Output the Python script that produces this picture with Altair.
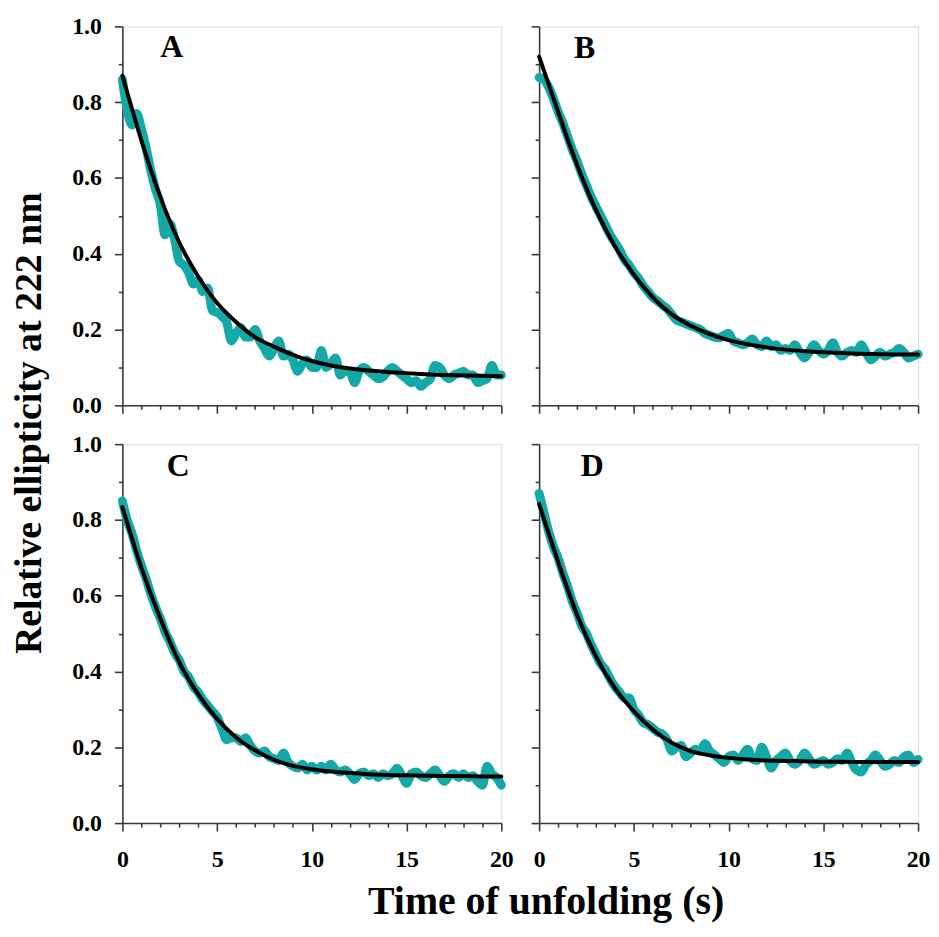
import altair as alt
import pandas as pd

SERIF = "Liberation Serif"
TEAL = "#14a9a6"
FRAME = "#3a3a3a"

# sampling times of the measured traces (s)
time_raw = [0, 0.25, 0.5, 0.75, 1, 1.25, 1.5, 1.75, 2, 2.25, 2.5, 2.75, 3, 3.25, 3.5, 3.75,
            4, 4.25, 4.5, 4.75, 5, 5.25, 5.5, 5.75, 6, 6.25, 6.5, 6.75, 7, 7.25, 7.5, 7.75,
            8, 8.25, 8.5, 8.75, 9, 9.25, 9.5, 9.75, 10, 10.25, 10.5, 10.75, 11, 11.25, 11.5, 11.75,
            12, 12.25, 12.5, 12.75, 13, 13.25, 13.5, 13.75, 14, 14.25, 14.5, 14.75, 15, 15.25, 15.5, 15.75,
            16, 16.25, 16.5, 16.75, 17, 17.25, 17.5, 17.75, 18, 18.25, 18.5, 18.75, 19, 19.25, 19.5, 19.75, 20]
# times at which the fitted curves are read (s)
time_fit = [0, 1, 2, 3, 4, 5, 6, 7, 8, 9, 10, 11, 12, 13, 14, 15, 16, 17, 18, 19, 20]

raw_A = [0.86, 0.78, 0.74, 0.77, 0.73, 0.68, 0.62, 0.57, 0.53, 0.45, 0.48, 0.44, 0.38, 0.37, 0.35, 0.32,
         0.33, 0.30, 0.31, 0.25, 0.245, 0.235, 0.22, 0.17, 0.19, 0.205, 0.18, 0.18, 0.20, 0.17, 0.15, 0.13,
         0.15, 0.17, 0.13, 0.135, 0.12, 0.09, 0.11, 0.12, 0.10, 0.10, 0.145, 0.10, 0.11, 0.125, 0.08, 0.09,
         0.09, 0.06, 0.09, 0.10, 0.09, 0.08, 0.07, 0.075, 0.09, 0.10, 0.09, 0.08, 0.07, 0.06, 0.065, 0.05,
         0.06, 0.07, 0.105, 0.10, 0.08, 0.07, 0.08, 0.085, 0.09, 0.08, 0.08, 0.06, 0.065, 0.07, 0.105, 0.08, 0.08]
fit_A = [0.87, 0.70, 0.55, 0.43, 0.34, 0.27, 0.22, 0.18, 0.155, 0.133, 0.117, 0.105, 0.097, 0.092, 0.088,
         0.085, 0.082, 0.080, 0.079, 0.078, 0.077]

raw_B = [0.865, 0.86, 0.84, 0.81, 0.775, 0.745, 0.71, 0.675, 0.645, 0.61, 0.58, 0.55, 0.525, 0.50, 0.475, 0.45,
         0.43, 0.41, 0.385, 0.37, 0.35, 0.335, 0.315, 0.30, 0.285, 0.275, 0.265, 0.255, 0.24, 0.225, 0.22, 0.215,
         0.21, 0.205, 0.20, 0.19, 0.185, 0.18, 0.178, 0.185, 0.19, 0.17, 0.165, 0.16, 0.165, 0.175, 0.16, 0.155,
         0.17, 0.155, 0.16, 0.145, 0.15, 0.145, 0.16, 0.14, 0.125, 0.14, 0.16, 0.145, 0.135, 0.145, 0.165, 0.14,
         0.13, 0.14, 0.145, 0.14, 0.16, 0.14, 0.12, 0.13, 0.14, 0.13, 0.135, 0.14, 0.15, 0.14, 0.125, 0.13, 0.135]
fit_B = [0.92, 0.775, 0.635, 0.515, 0.42, 0.345, 0.285, 0.24, 0.21, 0.188, 0.172, 0.161, 0.153, 0.147, 0.143,
         0.140, 0.138, 0.136, 0.135, 0.134, 0.134]

raw_C = [0.85, 0.80, 0.765, 0.72, 0.68, 0.645, 0.605, 0.57, 0.54, 0.505, 0.48, 0.45, 0.43, 0.40, 0.385, 0.36,
         0.345, 0.325, 0.31, 0.295, 0.28, 0.25, 0.22, 0.225, 0.225, 0.215, 0.225, 0.205, 0.19, 0.185, 0.19, 0.175,
         0.17, 0.165, 0.185, 0.16, 0.15, 0.145, 0.155, 0.14, 0.15, 0.14, 0.15, 0.14, 0.155, 0.14, 0.135, 0.14,
         0.13, 0.115, 0.13, 0.135, 0.125, 0.13, 0.12, 0.13, 0.125, 0.13, 0.145, 0.125, 0.105, 0.13, 0.135, 0.125,
         0.12, 0.13, 0.14, 0.125, 0.11, 0.125, 0.13, 0.12, 0.13, 0.12, 0.125, 0.11, 0.10, 0.15, 0.13, 0.12, 0.10]
fit_C = [0.834, 0.675, 0.54, 0.425, 0.34, 0.275, 0.226, 0.192, 0.167, 0.151, 0.142, 0.136, 0.132, 0.129, 0.127,
         0.126, 0.125, 0.124, 0.124, 0.123, 0.123]

raw_D = [0.87, 0.82, 0.77, 0.73, 0.70, 0.66, 0.625, 0.585, 0.555, 0.52, 0.50, 0.47, 0.445, 0.42, 0.405, 0.38,
         0.36, 0.345, 0.33, 0.33, 0.30, 0.285, 0.265, 0.26, 0.25, 0.24, 0.235, 0.22, 0.19, 0.20, 0.205, 0.175,
         0.185, 0.195, 0.19, 0.21, 0.19, 0.18, 0.17, 0.16, 0.175, 0.18, 0.165, 0.18, 0.195, 0.17, 0.165, 0.20,
         0.175, 0.145, 0.165, 0.175, 0.185, 0.165, 0.155, 0.165, 0.185, 0.17, 0.155, 0.16, 0.165, 0.155, 0.16, 0.17,
         0.165, 0.185, 0.16, 0.14, 0.135, 0.155, 0.165, 0.18, 0.165, 0.15, 0.155, 0.165, 0.16, 0.175, 0.18, 0.16, 0.168]
fit_D = [0.842, 0.69, 0.55, 0.44, 0.356, 0.295, 0.247, 0.212, 0.19, 0.179, 0.172, 0.168, 0.165, 0.164, 0.163,
         0.162, 0.162, 0.161, 0.161, 0.161, 0.161]

panel_letters = ["A", "B", "C", "D"]
letter_t = [2.6, 2.4, 2.95, 2.8]
letter_v = [0.92, 0.917, 0.917, 0.917]

x_tick_values = [0, 1, 2, 3, 4, 5, 6, 7, 8, 9, 10, 11, 12, 13, 14, 15, 16, 17, 18, 19, 20]
y_tick_values = [0.0, 0.1, 0.2, 0.3, 0.4, 0.5, 0.6, 0.7, 0.8, 0.9, 1.0]

x_title = "Time of unfolding (s)"
y_title = "Relative ellipticity at 222 nm"

W = 381
H = 381


def x_axis(show_labels):
    return alt.Axis(
        values=x_tick_values,
        format="d",
        tickSize={"condition": {"test": "datum.value % 5 === 0", "value": 8}, "value": 4},
        labelExpr="datum.value % 5 === 0 ? datum.label : ''",
        labels=show_labels,
        grid=False,
        domainColor=FRAME, domainWidth=1.6,
        tickColor=FRAME, tickWidth=1.6,
        labelFont=SERIF, labelFontWeight="bold", labelFontSize=24, labelColor="black",
        labelPadding=17, labelFlush=False, labelOverlap=False, labelBound=False,
        title=None,
    )


def y_axis(show_labels):
    return alt.Axis(
        values=y_tick_values,
        format=".1f",
        tickSize={"condition": {"test": "round(datum.value * 10) % 2 === 0", "value": 8}, "value": 4},
        labelExpr="round(datum.value * 10) % 2 === 0 ? datum.label : ''",
        labels=show_labels,
        grid=False,
        domainColor=FRAME, domainWidth=1.6,
        tickColor=FRAME, tickWidth=1.6,
        labelFont=SERIF, labelFontWeight="bold", labelFontSize=24, labelColor="black",
        labelPadding=13, labelFlush=False, labelOverlap=False, labelBound=False,
        title=None,
    )


def panel(i, raw, fit, show_x, show_y, extra_layers=()):
    raw_df = pd.DataFrame({"t": time_raw, "v": raw})
    fit_df = pd.DataFrame({"t": time_fit, "v": fit})
    lab_df = pd.DataFrame({"t": [letter_t[i]], "v": [letter_v[i]], "s": [panel_letters[i]]})
    x = alt.X("t:Q", scale=alt.Scale(domain=[0, 20], nice=False, zero=False), axis=x_axis(show_x))
    y = alt.Y("v:Q", scale=alt.Scale(domain=[0, 1], nice=False), axis=y_axis(show_y))
    raw_line = alt.Chart(raw_df).mark_line(
        color=TEAL, strokeWidth=9, interpolate="monotone", strokeCap="round", strokeJoin="round"
    ).encode(x=x, y=y)
    fit_line = alt.Chart(fit_df).mark_line(
        color="black", strokeWidth=4, interpolate="monotone", strokeCap="round"
    ).encode(x=x, y=y)
    label = alt.Chart(lab_df).mark_text(
        font=SERIF, fontWeight="bold", fontSize=32, align="center", baseline="alphabetic", color="black"
    ).encode(x=x, y=y, text="s:N")
    return alt.layer(raw_line, fit_line, label, *extra_layers).properties(width=W, height=H)


one = pd.DataFrame({"k": [0]})
x_title_layer = alt.Chart(one).mark_text(
    font=SERIF, fontWeight="bold", fontSize=40, align="center", baseline="alphabetic", color="black"
).encode(x=alt.value(426), y=alt.value(472), text=alt.value(x_title))
y_title_layer = alt.Chart(one).mark_text(
    font=SERIF, fontWeight="bold", fontSize=38, align="center", baseline="middle", angle=270, color="black"
).encode(x=alt.value(-93), y=alt.value(-21), text=alt.value(y_title))

pA = panel(0, raw_A, fit_A, False, True)
pB = panel(1, raw_B, fit_B, False, False)
pC = panel(2, raw_C, fit_C, True, True, (x_title_layer, y_title_layer))
pD = panel(3, raw_D, fit_D, True, False)

chart = alt.concat(
    pA, pB, pC, pD, columns=2, spacing={"row": 39, "column": 38}, bounds="flush"
).properties(
    padding={"left": 2, "top": 3, "right": 0, "bottom": 0}
).configure_view(stroke=FRAME, strokeWidth=1.6).configure(background="white")

chart.save("out.html", embed_options={"renderer": "svg", "actions": False})
